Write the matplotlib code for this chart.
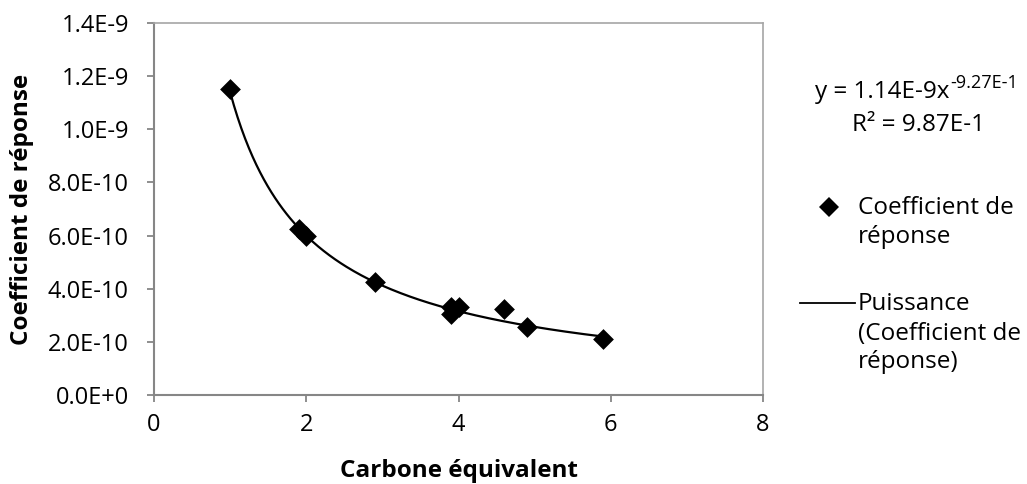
import numpy as np
import matplotlib
matplotlib.use("Agg")
import matplotlib.pyplot as plt
from matplotlib.lines import Line2D

plt.rcParams['font.family'] = ['Open Sans', 'DejaVu Sans']

# data
carbone = [1.0, 1.9, 2.0, 2.9, 3.9, 3.9, 4.0, 4.6, 4.9, 5.9]
coeff = [1.15e-9, 6.25e-10, 6.0e-10, 4.27e-10, 3.05e-10, 3.3e-10, 3.3e-10, 3.22e-10, 2.55e-10, 2.12e-10]

# power trendline y = a * x^b
fit_a = 1.14e-9
fit_b = -0.927

xticks = [0, 2, 4, 6, 8]
yticks = [0, 2e-10, 4e-10, 6e-10, 8e-10, 1.0e-9, 1.2e-9, 1.4e-9]
ytick_labels = ['0.0E+0', '2.0E-10', '4.0E-10', '6.0E-10', '8.0E-10', '1.0E-9', '1.2E-9', '1.4E-9']

W, H = 1027, 484
fig = plt.figure(figsize=(W / 100, H / 100), dpi=100)
ax = fig.add_axes([154 / W, 1 - 395 / H, (763 - 154) / W, (395 - 23) / H])

xs = np.linspace(min(carbone), max(carbone), 200)
ax.plot(xs, fit_a * xs ** fit_b, color='black', lw=1.6, zorder=2)
ax.scatter(carbone, coeff, marker='D', s=112, color='black', linewidths=0, zorder=3)

ax.set_xlim(0, 8)
ax.set_ylim(0, 1.4e-9)
ax.set_xticks(xticks)
ax.set_xticklabels([str(t) for t in xticks])
ax.set_yticks(yticks)
ax.set_yticklabels(ytick_labels)
ax.tick_params(labelsize=17, colors='#868686', labelcolor='black', length=5, width=1.3)
ax.tick_params(axis='x', pad=8)
ax.tick_params(axis='y', pad=13)

for s in ['left', 'bottom']:
    ax.spines[s].set_color('#868686')
    ax.spines[s].set_linewidth(1.5)
for s in ['top', 'right']:
    ax.spines[s].set_color('#a6a6a6')
    ax.spines[s].set_linewidth(1.2)

ax.set_xlabel('Carbone équivalent', fontsize=17.5, fontweight='bold', labelpad=16)
ax.set_ylabel('Coefficient de réponse', fontsize=17.5, fontweight='bold', labelpad=10)

# equation and R²
fs = 17.5
eq = fig.text(815 / W, 1 - 98 / H, 'y = 1.14E-9x', fontsize=fs, ha='left', va='baseline')
fig.canvas.draw()
bb = eq.get_window_extent(fig.canvas.get_renderer())
fig.text(bb.x1 / W + 0.001, 1 - 88 / H, '-9.27E-1', fontsize=13, ha='left', va='baseline')
fig.text(918 / W, 1 - 131 / H, 'R² = 9.87E-1', fontsize=fs, ha='center', va='baseline')

# legend drawn by hand
fig.add_artist(Line2D([829 / W], [1 - 207 / H], marker='D', color='black', ls='none',
                      markersize=10.5, markeredgewidth=0, transform=fig.transFigure))
fig.text(858 / W, 1 - 214 / H, 'Coefficient de', fontsize=fs, ha='left', va='baseline')
fig.text(858 / W, 1 - 243 / H, 'réponse', fontsize=fs, ha='left', va='baseline')
fig.add_artist(Line2D([800 / W, 855 / W], [1 - 303 / H, 1 - 303 / H], color='black', lw=1.3,
                      transform=fig.transFigure))
fig.text(858 / W, 1 - 310 / H, 'Puissance', fontsize=fs, ha='left', va='baseline')
fig.text(858 / W, 1 - 340 / H, '(Coefficient de', fontsize=fs, ha='left', va='baseline')
fig.text(858 / W, 1 - 368 / H, 'réponse)', fontsize=fs, ha='left', va='baseline')

plt.savefig('out.png', dpi=100)
